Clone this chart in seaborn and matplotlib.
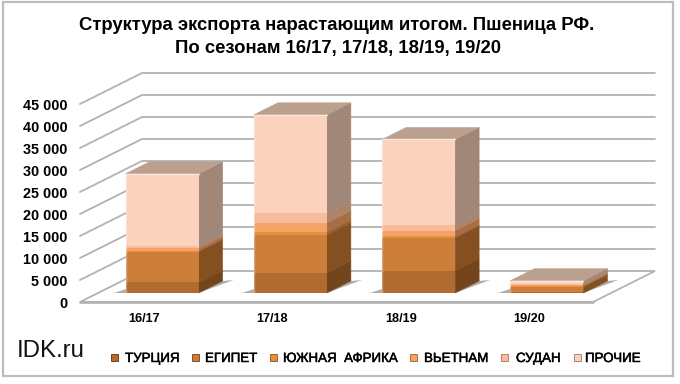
import matplotlib
matplotlib.use("Agg")
import matplotlib.pyplot as plt
import matplotlib.patheffects as pe
from matplotlib.patches import Polygon, Rectangle
import seaborn as sns
import numpy as np

seasons = ["16/17", "17/18", "18/19", "19/20"]
turkey = [2430, 4600, 5100, 300]
egypt = [6960, 8600, 7400, 1100]
south_africa = [210, 660, 360, 100]
vietnam = [550, 2120, 1340, 300]
sudan = [600, 2120, 1250, 200]
others = [16350, 22400, 19450, 800]
series = [turkey, egypt, south_africa, vietnam, sudan, others]
names = ["ТУРЦИЯ", "ЕГИПЕТ", "ЮЖНАЯ  АФРИКА", "ВЬЕТНАМ", "СУДАН", "ПРОЧИЕ"]
yticks = np.arange(0, 45001, 5000)

front = ["#B06C30", "#CD7F3A", "#E88E3D", "#F4A267", "#F8BC9A", "#FBD2BD"]
side = ["#74451B", "#855021", "#96602F", "#A86F45", "#AE8468", "#A08778"]
top_color = "#BBA090"
grid_color = "#B2B2B2"

W, H = 680, 384
sns.set_theme(style="white")
plt.rcParams["font.family"] = ["Liberation Sans", "DejaVu Sans"]

fig = plt.figure(figsize=(W / 100, H / 100), dpi=100)

# back wall and floor live on the front plane of the fake 3d box
wall = fig.add_axes([80 / W, 1 - 302 / H, 513 / W, 198 / H])
wall.set_xlim(-0.5, 3.5)
wall.set_ylim(0, 45000)
wall.patch.set_alpha(0)
sns.despine(ax=wall, left=True, bottom=True)
wall.set_xticks(range(4), seasons, fontsize=9.2, fontweight="bold", color="black")
wall.set_yticks(yticks, [f"{v:,}".replace(",", " ") for v in yticks],
                fontsize=10.4, fontweight="bold", color="black")
wall.tick_params(length=0)
wall.tick_params(axis="x", pad=8)
wall.tick_params(axis="y", pad=9)

ux = 4 / 513      # one pixel in category units
uy = 45000 / 198  # one pixel in value units
depth_x, depth_y = 62 * ux, 31 * uy

for v in yticks[1:]:
    wall.plot([-0.5, -0.5 + depth_x, 3.5 + depth_x], [v, v + depth_y, v + depth_y],
              color=grid_color, lw=1.3, clip_on=False, zorder=1)
wall.add_patch(Polygon([(-0.5, 0), (3.5, 0), (3.5 + depth_x, depth_y), (-0.5 + depth_x, depth_y)],
                       facecolor="white", edgecolor=grid_color, lw=1.3, clip_on=False, zorder=2))
wall.plot([-0.5, 3.5], [0, 0], color=grid_color, lw=1.9, clip_on=False, zorder=3)

# bars sit part way into the depth of the box
ax = fig.add_axes([98 / W, 1 - 293 / H, 513 / W, 198 / H])
ax.patch.set_alpha(0)
bottom = np.zeros(4)
bar_width = 73 / 128.25
bar_dx, bar_dy = 24 * ux, 12 * uy

for i, vals in enumerate(series):
    sns.barplot(x=seasons, y=vals, bottom=bottom, color=front[i], saturation=1,
                width=bar_width, ax=ax, zorder=5)
    for bar in ax.patches[-4:]:
        x1 = bar.get_x() + bar.get_width()
        y0, y1 = bar.get_y(), bar.get_y() + bar.get_height()
        bar.set_edgecolor("none")
        ax.add_patch(Polygon([(x1, y0), (x1 + bar_dx, y0 + bar_dy), (x1 + bar_dx, y1 + bar_dy), (x1, y1)],
                             facecolor=side[i], edgecolor=side[i], lw=0.4, clip_on=False, zorder=4))
    bottom = bottom + np.array(vals)

for bar in list(ax.patches):
    if not isinstance(bar, Rectangle):
        continue
    x0, x1 = bar.get_x(), bar.get_x() + bar.get_width()
    if bar.get_y() == 0:
        # floor shadows either side of the bar
        ax.add_patch(Polygon([(x0 - 12 * ux, 0), (x0, 0), (x0, 4 * uy)],
                             facecolor="#8C8C8C", edgecolor="none", alpha=0.7, clip_on=False, zorder=3))
        ax.add_patch(Polygon([(x1, 0), (x1 + bar_dx + 11 * ux, bar_dy + 1 * uy), (x1 + bar_dx, bar_dy)],
                             facecolor="#8C8C8C", edgecolor="none", alpha=0.7, clip_on=False, zorder=3))
    ax.plot([x0, x0], [bar.get_y(), bar.get_y() + bar.get_height()], color="white", alpha=0.3,
            lw=1, clip_on=False, zorder=6)

for bar, total in zip(ax.patches[:], bottom):
    x0 = bar.get_x()
    x1 = x0 + bar.get_width()
    ax.add_patch(Polygon([(x0, total), (x1, total), (x1 + bar_dx, total + bar_dy), (x0 + bar_dx, total + bar_dy)],
                         facecolor=top_color, edgecolor=top_color, lw=0.4, clip_on=False, zorder=5))
    ax.plot([x0, x1], [total, total], color="#FDE6D8", lw=1, clip_on=False, zorder=6)

ax.set_xlim(-0.5, 3.5)
ax.set_ylim(0, 45000)
ax.axis("off")

# outer frame
fig.add_artist(Rectangle((3 / W, 1 - 376 / H), 670 / W, 374 / H, transform=fig.transFigure,
                         facecolor="none", edgecolor="#BDBDBD", lw=1.6))

fig.text(337 / W, 1 - 26 / H, "Структура экспорта нарастающим итогом. Пшеница РФ.",
         ha="center", va="center", fontsize=13.3, fontweight="bold", color="black")
fig.text(338 / W, 1 - 48 / H, "По сезонам 16/17, 17/18, 18/19, 19/20",
         ha="center", va="center", fontsize=13.3, fontweight="bold", color="black")
fig.text(17 / W, 1 - 351 / H, "IDK.ru", ha="left", va="center", fontsize=17.3, color="#111111")

# legend, spaced by hand like the original
marker_x = [114, 195, 273, 413, 504, 577]
label_x = [125, 205, 283, 424, 516, 585]
for i, name in enumerate(names):
    fig.add_artist(Rectangle((marker_x[i] / W - 3 / W, 1 - 361 / H), 7 / W, 7 / H, transform=fig.transFigure,
                             facecolor=front[i], edgecolor=side[i], lw=0.7))
    label = fig.text(label_x[i] / W, 1 - 359 / H, name, ha="left", va="center", fontsize=9.6, color="black")
    label.set_path_effects([pe.withStroke(linewidth=0.35, foreground="black")])

fig.savefig("out.png", dpi=100)
